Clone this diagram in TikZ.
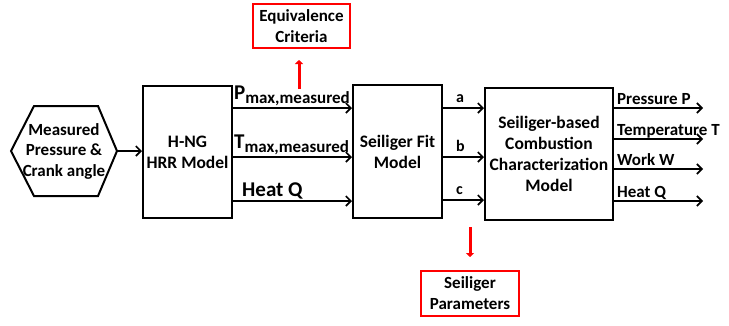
\documentclass[tikz,border=0pt]{standalone}
\usepackage{fontspec}
\setmainfont{Carlito}
\usetikzlibrary{arrows.meta,shapes.geometric}
\tikzset{
  blk/.style={draw, line width=2pt, font=\bfseries\fontsize{17.5}{21}\selectfont, align=center, inner sep=0pt},
  redbox/.style={draw=red, line width=2pt, font=\bfseries\fontsize{17}{21}\selectfont, align=center, inner sep=0pt},
  arr/.style={line width=1.8pt, -{Straight Barb[length=5pt,width=10pt,line width=1.6pt]}},
  redarr/.style={red, line width=3pt, -{Triangle[length=4pt,width=8pt]}},
  lbl/.style={font=\bfseries\fontsize{17}{20}\selectfont, inner sep=0pt, anchor=base west},
}
\begin{document}
\begin{tikzpicture}[x=1pt,y=-1pt]
\useasboundingbox (0,0) rectangle (729,325);
% hexagon
\draw[line width=2pt] (11,151) -- (34,106) -- (98,106) -- (117,151) -- (98,196) -- (34,196) -- cycle;
\node[font=\bfseries\fontsize{17}{20.5}\selectfont, align=center] (meas) at (64,151) {Measured\\Pressure \&\\Crank angle};
\coordinate (hexr) at (117,151);
% blocks
\node[blk, minimum width=89pt, minimum height=132pt] (hng) at (187.5,152) {H-NG\\HRR Model};
\node[blk, minimum width=89pt, minimum height=133pt] (fit) at (397.5,151.5) {Seiliger Fit\\Model};
\node[blk, minimum width=128pt, minimum height=132pt] (sbc) at (549,154) {Seiliger-based\\Combustion\\Characterization\\Model};
\node[redbox, minimum width=97pt, minimum height=44pt] (eq) at (301.5,26) {Equivalence\\Criteria};
\node[redbox, minimum width=98pt, minimum height=45pt] (sp) at (470,293.5) {Seiliger\\Parameters};
% input arrow
\draw[arr] (hexr) -- (hng.west |- hexr);
% H-NG outputs
\foreach \y/\n in {108/p,157/t,201/q}{
  \coordinate (h\n) at (hng.east |- 0,\y);
  \draw[arr] (h\n) -- (fit.west |- h\n);
}
\node[lbl] (lp) at (234,99) {{\fontsize{21}{22}\selectfont P}\raisebox{-4pt}{max,measured}};
\node[lbl] (lt) at (234,148) {{\fontsize{21}{22}\selectfont T}\raisebox{-4pt}{max,measured}};
\node[lbl, font=\bfseries\fontsize{21}{22}\selectfont] (lq) at (242,196) {Heat Q};
% fit outputs
\foreach \y/\n/\t in {108/a/a,157/b/b,200/c/c}{
  \coordinate (f\n) at (fit.east |- 0,\y);
  \draw[arr] (f\n) -- (sbc.west |- f\n);
  \node[lbl, font=\bfseries\fontsize{16}{18}\selectfont] (l\n) at (456,\y-6) {\t};
}
% outputs
\foreach \y/\n/\t in {108/op/Pressure P,139/ot/Temperature T,169/ow/Work W,201/oq/Heat Q}{
  \coordinate (s\n) at (sbc.east |- 0,\y);
  \coordinate (e\n) at (703,\y);
  \draw[arr] (s\n) -- (e\n);
  \node[lbl] (l\n) at (617,\y-4) {\t};
}
% red arrows
\coordinate (eqs) at (299,89);
\draw[redarr] (eqs) -- (eqs |- 0,60);
\coordinate (sps) at (470,227);
\draw[redarr] (sps) -- (sps |- 0,257);
\end{tikzpicture}
\end{document}
